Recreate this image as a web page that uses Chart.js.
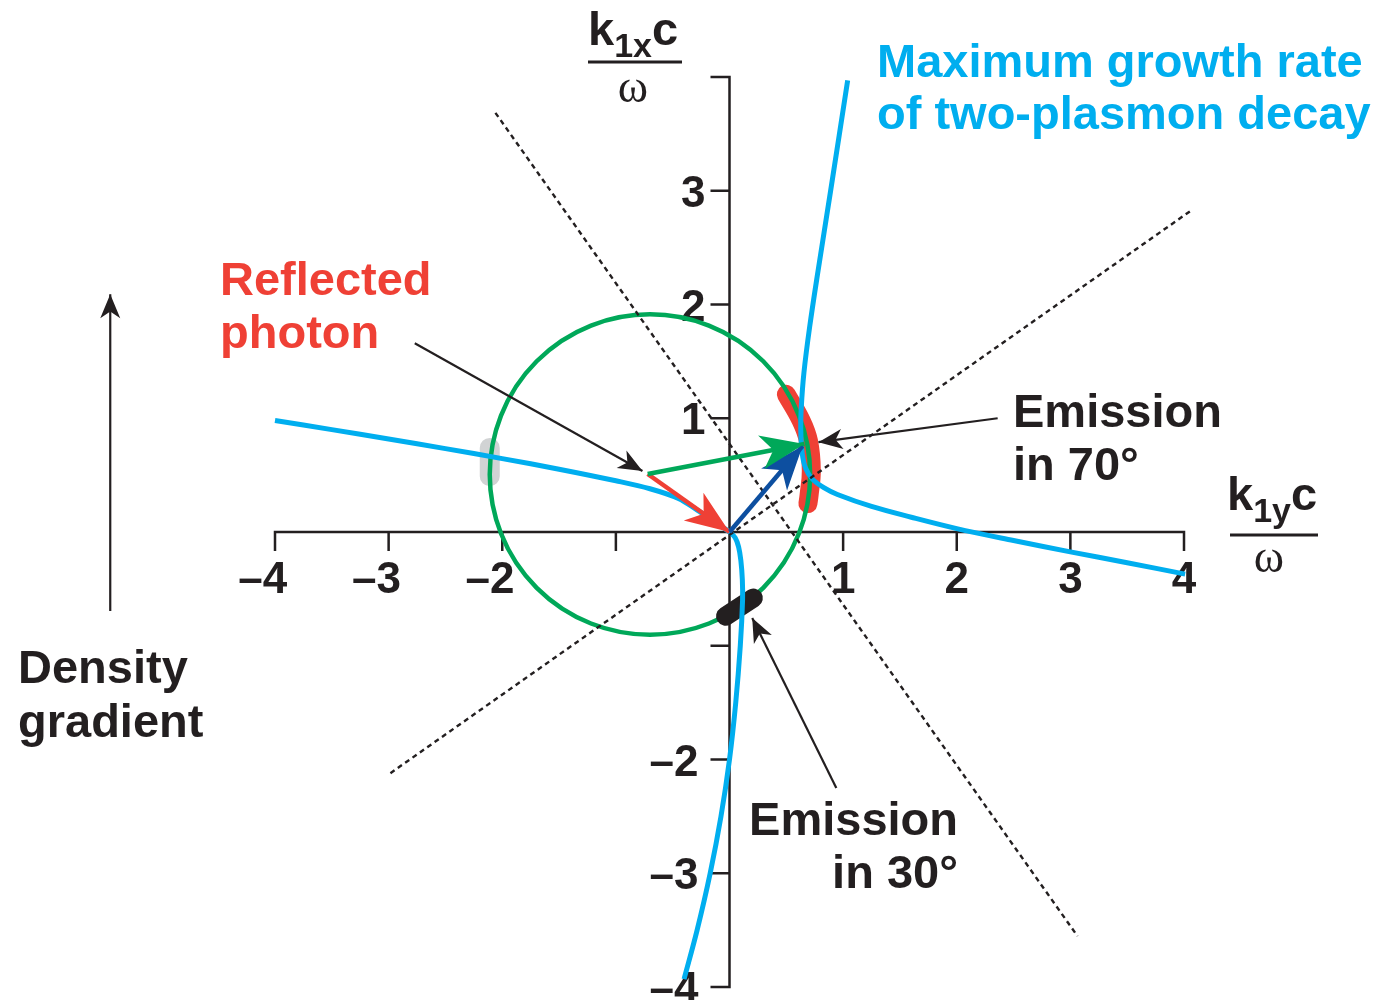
<!DOCTYPE html>
<html>
<head>
<meta charset="utf-8">
<script src="https://cdn.jsdelivr.net/npm/chart.js@4.4.1/dist/chart.umd.min.js"></script>
<style>
  html, body { margin: 0; padding: 0; background: #fff; }
  #wrap { width: 1381px; height: 1000px; position: relative; }
</style>
</head>
<body>
<div id="wrap"><canvas id="kspace"></canvas></div>
<script>
// Axes (k1y c/w horizontal, k1x c/w vertical)
const xRange = [-4, 4];
const yRange = [-4, 4];
const xTickValues = [-4, -3, -2, -1, 1, 2, 3, 4];
const xTickLabels = ['–4', '–3', '–2', '', '1', '2', '3', '4'];
const yTickValues = [4, 3, 2, 1, -1, -2, -3, -4];
const yTickLabels = ['', '3', '2', '1', '', '–2', '–3', '–4'];

// Maximum growth rate of two-plasmon decay (two branches)
const tpdLowerX = [-4.0, -3.5, -3.0, -2.5, -2.0, -1.5, -1.0, -0.7, -0.45, -0.28, -0.14, 0.0, 0.05, 0.08, 0.10, 0.113, 0.115, 0.095, 0.055, 0.0, -0.075, -0.17, -0.285, -0.40];
const tpdLowerY = [0.98, 0.90, 0.818, 0.733, 0.645, 0.552, 0.45, 0.38, 0.295, 0.19, 0.095, 0.0, -0.05, -0.13, -0.25, -0.42, -0.6, -1.0, -1.5, -2.0, -2.5, -3.0, -3.5, -3.93];
const tpdUpperX = [1.04, 0.89, 0.78, 0.705, 0.655, 0.632, 0.627, 0.64, 0.67, 0.73, 0.83, 0.95, 1.25, 1.6, 2.0, 2.5, 3.0, 3.5, 4.01];
const tpdUpperY = [3.97, 3.0, 2.3, 1.8, 1.4, 1.1, 0.9, 0.69, 0.56, 0.465, 0.39, 0.33, 0.225, 0.13, 0.03, -0.075, -0.175, -0.27, -0.37];

// Reflected photon circle
const circleCenter = [-0.70, 0.505];
const circleRadius = 1.41;

// Wave vectors
const reflectedFrom = [-0.72, 0.51], reflectedTo = [0, 0];
const plasmonFrom = [-0.72, 0.51], plasmonTo = [0.66, 0.774];
const incidentFrom = [0, 0], incidentTo = [0.643, 0.756];

// Dotted guide lines
const guideAX = [-2.06, 3.063], guideAY = [3.685, -3.553];
const guideBX = [-2.984, 4.058], guideBY = [-2.12, 2.823];

// Emission regions (thick bands)
const band70X = [0.50, 0.63, 0.695, 0.72, 0.70, 0.69];
const band70Y = [1.21, 0.98, 0.80, 0.54, 0.32, 0.25];
const band30X = [-0.035, 0.21];
const band30Y = [-0.74, -0.58];
const bandGrayX = [-2.11, -2.11];
const bandGrayY = [0.739, 0.49];

// Annotation pointers
const photonPtrFrom = [-2.77, 1.66], photonPtrTo = [-0.766, 0.536];
const emit70PtrFrom = [2.36, 1.00], emit70PtrTo = [0.783, 0.79];
const emit30PtrFrom = [0.94, -2.25], emit30PtrTo = [0.20, -0.756];
const gradientFrom = [-5.45, -0.695], gradientTo = [-5.45, 2.09];

const INK = '#231f20';
const CYAN = '#00aeef';
const RED = '#ef4035';
const GREEN = '#00a859';
const BLUE = '#0d4fa0';
const GRAY = '#d1d3d4';
const SANS = '"Liberation Sans", Arial, Helvetica, sans-serif';

const pts = (xs, ys) => xs.map((x, i) => ({ x, y: ys[i] }));
const seg = (a, b) => [{ x: a[0], y: a[1] }, { x: b[0], y: b[1] }];

function lineSet(data, color, width, extra) {
    return Object.assign({
        data,
        showLine: true,
        borderColor: color,
        backgroundColor: color,
        borderWidth: width,
        pointRadius: 0,
        tension: 0,
        clip: false,
        borderCapStyle: 'butt'
    }, extra || {});
}

// Axes through origin, drawn under the data
const crossAxes = {
    id: 'crossAxes',
    beforeDatasetsDraw(chart) {
        const { ctx, scales: { x, y } } = chart;
        const x0 = x.getPixelForValue(0), y0 = y.getPixelForValue(0);
        const tick = 19;
        ctx.save();
        ctx.strokeStyle = INK;
        ctx.lineWidth = 2.5;
        ctx.lineJoin = 'miter';
        ctx.beginPath();
        ctx.moveTo(x.getPixelForValue(xRange[0]), y0 + tick);
        ctx.lineTo(x.getPixelForValue(xRange[0]), y0);
        ctx.lineTo(x.getPixelForValue(xRange[1]), y0);
        ctx.lineTo(x.getPixelForValue(xRange[1]), y0 + tick);
        ctx.moveTo(x0 - tick, y.getPixelForValue(yRange[1]));
        ctx.lineTo(x0, y.getPixelForValue(yRange[1]));
        ctx.lineTo(x0, y.getPixelForValue(yRange[0]));
        ctx.lineTo(x0 - tick, y.getPixelForValue(yRange[0]));
        xTickValues.forEach(v => {
            const px = x.getPixelForValue(v);
            ctx.moveTo(px, y0);
            ctx.lineTo(px, y0 + tick);
        });
        yTickValues.forEach(v => {
            const py = y.getPixelForValue(v);
            ctx.moveTo(x0, py);
            ctx.lineTo(x0 - tick, py);
        });
        ctx.stroke();

        ctx.fillStyle = INK;
        ctx.font = 'bold 44px ' + SANS;
        ctx.textBaseline = 'alphabetic';
        ctx.textAlign = 'right';
        xTickValues.forEach((v, i) => {
            const lab = xTickLabels[i];
            if (!lab) return;
            const px = x.getPixelForValue(v);
            const w = ctx.measureText(lab.replace('–', '')).width;
            ctx.fillText(lab, px + w / 2, y0 + 61);
        });
        yTickValues.forEach((v, i) => {
            const lab = yTickLabels[i];
            if (!lab) return;
            const py = y.getPixelForValue(v);
            ctx.fillText(lab, x0 - (v < 0 ? 31 : 24), py + 16);
        });
        ctx.restore();
    }
};

// Arrow heads on the last point of datasets that ask for one
const arrowHeads = {
    id: 'arrowHeads',
    afterDatasetsDraw(chart) {
        const ctx = chart.ctx;
        chart.data.datasets.forEach((ds, i) => {
            if (!ds.head) return;
            const els = chart.getDatasetMeta(i).data;
            const tip = els[els.length - 1], from = els[els.length - 2];
            const [len, half] = ds.head;
            const dx = tip.x - from.x, dy = tip.y - from.y;
            const d = Math.hypot(dx, dy);
            const ux = dx / d, uy = dy / d, nx = -uy, ny = ux;
            const bx = tip.x - ux * len, by = tip.y - uy * len;
            ctx.save();
            ctx.fillStyle = ds.borderColor;
            ctx.beginPath();
            ctx.moveTo(tip.x, tip.y);
            ctx.lineTo(bx + nx * half, by + ny * half);
            ctx.lineTo(tip.x - ux * len * 0.72, tip.y - uy * len * 0.72);
            ctx.lineTo(bx - nx * half, by - ny * half);
            ctx.closePath();
            ctx.fill();
            ctx.restore();
        });
    }
};

function kLabel(ctx, left, base, sub, lineY, lineX0, lineX1, omegaX, omegaBase) {
    ctx.textAlign = 'left';
    ctx.font = 'bold 47px ' + SANS;
    ctx.fillText('k', left, base);
    let cx = left + ctx.measureText('k').width;
    ctx.font = 'bold 34px ' + SANS;
    ctx.fillText(sub, cx, base + 12);
    cx += ctx.measureText(sub).width;
    ctx.font = 'bold 47px ' + SANS;
    ctx.fillText('c', cx, base);
    ctx.fillRect(lineX0, lineY - 1.5, lineX1 - lineX0, 3);
    ctx.font = '46px "Liberation Serif", "DejaVu Serif", serif';
    ctx.textAlign = 'center';
    ctx.fillText('ω', omegaX, omegaBase);
}

const textLayer = {
    id: 'textLayer',
    afterDraw(chart) {
        const ctx = chart.ctx;
        ctx.save();
        ctx.textBaseline = 'alphabetic';
        ctx.fillStyle = INK;
        kLabel(ctx, 588, 45, '1x', 62, 588, 682, 633, 102);
        kLabel(ctx, 1227, 510, '1y', 535, 1230, 1318, 1269, 572);

        ctx.font = 'bold 47px ' + SANS;
        ctx.textAlign = 'left';
        ctx.fillStyle = CYAN;
        ctx.fillText('Maximum growth rate', 877, 77);
        ctx.fillText('of two-plasmon decay', 877, 129);
        ctx.fillStyle = RED;
        ctx.fillText('Reflected', 220, 295);
        ctx.fillText('photon', 220, 348);
        ctx.fillStyle = INK;
        ctx.fillText('Emission', 1013, 427);
        ctx.fillText('in 70°', 1013, 480);
        ctx.fillText('Density', 18, 683);
        ctx.fillText('gradient', 18, 737);
        ctx.textAlign = 'right';
        ctx.fillText('Emission', 958, 835);
        ctx.fillText('in 30°', 958, 888);
        ctx.restore();
    }
};

// datasets listed top layer first (Chart.js paints index 0 last)
const ctx = document.getElementById('kspace');
new Chart(ctx, {
    type: 'scatter',
    data: {
        datasets: [
            lineSet(seg(photonPtrFrom, photonPtrTo), INK, 2.2, { head: [24, 10] }),
            lineSet(seg(emit70PtrFrom, emit70PtrTo), INK, 2.2, { head: [24, 10] }),
            lineSet(seg(emit30PtrFrom, emit30PtrTo), INK, 2.2, { head: [24, 10] }),
            lineSet(seg(gradientFrom, gradientTo), INK, 2.2, { head: [24, 10] }),
            lineSet(seg(incidentFrom, incidentTo), BLUE, 4.5, { head: [44, 17] }),
            lineSet(seg(plasmonFrom, plasmonTo), GREEN, 4.5, { head: [44, 17] }),
            lineSet(seg(reflectedFrom, reflectedTo), RED, 4.5, { head: [44, 17] }),
            lineSet(pts(guideAX, guideAY), INK, 2.4, { borderDash: [5, 4] }),
            lineSet(pts(guideBX, guideBY), INK, 2.4, { borderDash: [5, 4] }),
            lineSet(pts(tpdLowerX, tpdLowerY), CYAN, 5, { tension: 0.35, borderJoinStyle: 'round' }),
            lineSet(pts(tpdUpperX, tpdUpperY), CYAN, 5, { tension: 0.35, borderJoinStyle: 'round' }),
            lineSet(pts(band30X, band30Y), INK, 19, { borderCapStyle: 'round' }),
            {
                data: [{ x: circleCenter[0], y: circleCenter[1] }],
                showLine: false,
                clip: false,
                pointRadius: c => {
                    const s = c.chart.scales.x;
                    return Math.abs(s.getPixelForValue(circleRadius) - s.getPixelForValue(0));
                },
                pointBorderWidth: 4.5,
                pointBorderColor: GREEN,
                pointBackgroundColor: 'rgba(0,0,0,0)'
            },
            lineSet(pts(band70X, band70Y), RED, 19, { tension: 0.4, borderCapStyle: 'round', borderJoinStyle: 'round' }),
            lineSet(pts(bandGrayX, bandGrayY), GRAY, 20, { borderCapStyle: 'round' })
        ]
    },
    options: {
        responsive: true,
        maintainAspectRatio: false,
        animation: false,
        events: [],
        layout: { padding: { left: 275, right: 197, top: 77, bottom: 13 } },
        scales: {
            x: { type: 'linear', min: xRange[0], max: xRange[1], display: false },
            y: { type: 'linear', min: yRange[0], max: yRange[1], display: false }
        },
        plugins: {
            legend: { display: false },
            tooltip: { enabled: false }
        }
    },
    plugins: [crossAxes, arrowHeads, textLayer]
});
</script>
</body>
</html>
